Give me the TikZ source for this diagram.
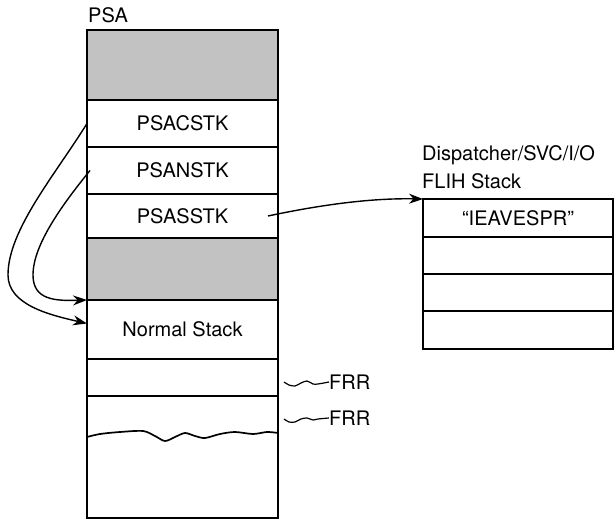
\documentclass[tikz,border=0pt]{standalone}
\usepackage{fontspec}
\setmainfont{TeX Gyre Heros}
\usetikzlibrary{arrows.meta}
\begin{document}
\begin{tikzpicture}[x=1pt,y=-1pt,
  cell/.style={draw, line width=2pt, minimum width=191pt, inner sep=0pt, outer sep=0pt, font=\fontsize{20}{24}\selectfont},
  rcell/.style={cell, minimum width=190pt},
  shade/.style={fill=black!24},
  lbl/.style={inner sep=0pt, anchor=west, font=\fontsize{20}{24}\selectfont},
  conn/.style={line width=1.4pt, -{Stealth[length=14pt,width=10pt]}},
  wav/.style={line width=1.2pt}]
\useasboundingbox (0,0) rectangle (616,521);
% PSA column
\node[cell, shade, minimum height=70pt] (s1) at (182.5,65) {};
\node[cell, minimum height=47pt] (c) at (182.5,123.5) {PSACSTK};
\node[cell, minimum height=47pt] (n) at (182.5,170.5) {PSANSTK};
\node[cell, minimum height=44pt] (ss) at (182.5,216) {PSASSTK};
\node[cell, shade, minimum height=62pt] (s2) at (182.5,269) {};
\node[cell, minimum height=59pt] (ns) at (182.5,329.5) {Normal Stack};
\node[cell, minimum height=37pt] (b1) at (182.5,377.5) {};
\node[cell, minimum height=122pt] (b2) at (182.5,457) {};
\node[lbl] (psa) at (88,15) {PSA};
% torn edge
\draw[line width=1.7pt] plot[smooth] coordinates {(87,437) (100,434) (120,432) (143,431) (155,436) (165,441) (175,437) (185,433) (195,436) (205,438) (220,434) (235,432) (253,434) (267,432) (278,433)};
% right stack
\node[rcell, minimum height=38pt] (r1) at (518,218) {“IEAVESPR”};
\node[rcell, minimum height=37pt] (r2) at (518,255.5) {};
\node[rcell, minimum height=37pt] (r3) at (518,292.5) {};
\node[rcell, minimum height=38pt] (r4) at (518,330) {};
\node[lbl] (d1) at (422,155) {Dispatcher/SVC/I/O};
\node[lbl] (d2) at (422,181) {FLIH Stack};
% FRR labels
\node[lbl] (f1) at (329,382) {FRR};
\node[lbl] (f2) at (329,418) {FRR};
\draw[wav] plot[smooth] coordinates {(284,382) (289,385) (295,386) (301,383) (307,381) (313,384) (318,384) (f1.west)};
\draw[wav] plot[smooth] coordinates {(284,419) (289,422) (295,422) (301,419) (307,418) (313,420) (318,419) (f2.west)};
% connectors
\draw[conn] (c.west) .. controls (55,175) and (8,230) .. (8,275) .. controls (8,305) and (50,315) .. ([yshift=6pt]ns.west);
\draw[conn] ([xshift=3pt]n.west) .. controls (62,205) and (33,245) .. (33,275) .. controls (33,300) and (55,301) .. (ns.north west);
\draw[conn] ([xshift=-10pt]ss.east) .. controls (320,205) and (370,198) .. (r1.north west);
\end{tikzpicture}
\end{document}
